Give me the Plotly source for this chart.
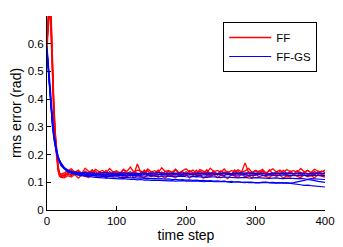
import plotly.graph_objects as go

# time steps: dense early part, then every 5 steps
T_EARLY = [0, 2, 4, 6, 8, 10, 12, 14, 16, 18, 20]
TAIL_START = 25
TAIL_STEP = 5

# FF (red) runs
RED_EARLY = [
    [0.60, 0.70, 0.78, 0.66, 0.48, 0.35, 0.26, 0.19, 0.15, 0.13, 0.125],
    [0.62, 0.72, 0.80, 0.70, 0.52, 0.38, 0.28, 0.21, 0.16, 0.135, 0.128],
    [0.58, 0.66, 0.74, 0.62, 0.45, 0.33, 0.24, 0.18, 0.14, 0.122, 0.118],
    [0.61, 0.69, 0.76, 0.68, 0.50, 0.36, 0.27, 0.20, 0.155, 0.128, 0.13],
    [0.60, 0.71, 0.79, 0.64, 0.47, 0.34, 0.25, 0.185, 0.145, 0.125, 0.12],
]
RED_TAIL = [
    [0.128, 0.135, 0.142, 0.130, 0.138, 0.127, 0.140, 0.133, 0.145, 0.129,
     0.136, 0.131, 0.143, 0.127, 0.138, 0.134, 0.129, 0.147, 0.132, 0.138,
     0.128, 0.166, 0.134, 0.141, 0.129, 0.137, 0.131, 0.144, 0.127, 0.139,
     0.133, 0.128, 0.146, 0.131, 0.137, 0.129, 0.142, 0.134, 0.127, 0.140,
     0.132, 0.145, 0.130, 0.136, 0.128, 0.141, 0.133, 0.139, 0.127, 0.144,
     0.131, 0.137, 0.170, 0.135, 0.129, 0.142, 0.133, 0.138, 0.127, 0.145,
     0.131, 0.136, 0.129, 0.143, 0.132, 0.138, 0.128, 0.141, 0.134, 0.130,
     0.144, 0.133, 0.137, 0.129, 0.141, 0.135],
    [0.121, 0.130, 0.124, 0.137, 0.126, 0.133, 0.122, 0.135, 0.128, 0.140,
     0.125, 0.132, 0.123, 0.138, 0.129, 0.124, 0.136, 0.127, 0.131, 0.122,
     0.139, 0.126, 0.133, 0.128, 0.142, 0.124, 0.130, 0.125, 0.137, 0.129,
     0.123, 0.135, 0.127, 0.132, 0.121, 0.138, 0.128, 0.134, 0.125, 0.131,
     0.137, 0.124, 0.129, 0.141, 0.126, 0.132, 0.123, 0.136, 0.130, 0.125,
     0.139, 0.128, 0.133, 0.122, 0.137, 0.127, 0.131, 0.143, 0.126, 0.130,
     0.124, 0.138, 0.129, 0.133, 0.125, 0.140, 0.127, 0.132, 0.123, 0.136,
     0.129, 0.134, 0.126, 0.139, 0.128, 0.131],
    [0.116, 0.124, 0.119, 0.128, 0.115, 0.126, 0.121, 0.117, 0.130, 0.122,
     0.118, 0.127, 0.114, 0.125, 0.120, 0.129, 0.116, 0.123, 0.119, 0.131,
     0.117, 0.124, 0.121, 0.115, 0.128, 0.120, 0.126, 0.118, 0.123, 0.114,
     0.129, 0.121, 0.117, 0.126, 0.122, 0.130, 0.116, 0.124, 0.119, 0.127,
     0.115, 0.123, 0.120, 0.128, 0.117, 0.125, 0.121, 0.113, 0.127, 0.122,
     0.118, 0.129, 0.120, 0.124, 0.116, 0.131, 0.119, 0.125, 0.121, 0.117,
     0.128, 0.122, 0.126, 0.115, 0.123, 0.119, 0.130, 0.121, 0.117, 0.126,
     0.120, 0.124, 0.116, 0.128, 0.122, 0.119],
    [0.134, 0.142, 0.149, 0.136, 0.144, 0.132, 0.151, 0.139, 0.135, 0.147,
     0.138, 0.143, 0.133, 0.150, 0.137, 0.141, 0.134, 0.146, 0.139, 0.155,
     0.136, 0.144, 0.140, 0.133, 0.148, 0.137, 0.142, 0.135, 0.152, 0.139,
     0.143, 0.136, 0.147, 0.134, 0.141, 0.149, 0.137, 0.144, 0.133, 0.146,
     0.140, 0.135, 0.151, 0.138, 0.143, 0.136, 0.148, 0.134, 0.142, 0.139,
     0.145, 0.137, 0.141, 0.150, 0.136, 0.143, 0.138, 0.147, 0.134, 0.141,
     0.149, 0.137, 0.144, 0.135, 0.146, 0.139, 0.142, 0.136, 0.150, 0.138,
     0.143, 0.135, 0.147, 0.140, 0.137, 0.144],
    [0.125, 0.133, 0.127, 0.139, 0.131, 0.124, 0.136, 0.129, 0.142, 0.126,
     0.134, 0.128, 0.137, 0.123, 0.132, 0.140, 0.127, 0.135, 0.130, 0.125,
     0.138, 0.131, 0.127, 0.144, 0.129, 0.134, 0.124, 0.137, 0.132, 0.128,
     0.141, 0.126, 0.133, 0.130, 0.138, 0.125, 0.135, 0.129, 0.143, 0.127,
     0.132, 0.136, 0.124, 0.139, 0.131, 0.128, 0.137, 0.133, 0.126, 0.140,
     0.129, 0.134, 0.127, 0.138, 0.132, 0.125, 0.141, 0.130, 0.135, 0.128,
     0.133, 0.126, 0.139, 0.131, 0.127, 0.136, 0.130, 0.142, 0.128, 0.134,
     0.131, 0.126, 0.138, 0.132, 0.129, 0.135],
]

# FF-GS (blue) runs
BLUE_EARLY = [
    [0.58, 0.51, 0.44, 0.37, 0.31, 0.27, 0.235, 0.21, 0.19, 0.18, 0.17],
    [0.57, 0.50, 0.43, 0.36, 0.30, 0.26, 0.23, 0.205, 0.19, 0.175, 0.165],
    [0.59, 0.52, 0.45, 0.38, 0.32, 0.275, 0.24, 0.215, 0.195, 0.18, 0.17],
    [0.56, 0.49, 0.42, 0.35, 0.30, 0.255, 0.225, 0.20, 0.185, 0.17, 0.16],
    [0.58, 0.50, 0.43, 0.37, 0.31, 0.265, 0.23, 0.21, 0.19, 0.177, 0.168],
]
BLUE_TAIL = [
    [0.153, 0.144, 0.139, 0.137, 0.136, 0.134, 0.135, 0.133, 0.134, 0.132,
     0.133, 0.135, 0.134, 0.132, 0.133, 0.131, 0.133, 0.134, 0.132, 0.133,
     0.131, 0.132, 0.134, 0.133, 0.131, 0.132, 0.133, 0.135, 0.133, 0.132,
     0.131, 0.133, 0.132, 0.134, 0.133, 0.131, 0.132, 0.130, 0.132, 0.133,
     0.131, 0.132, 0.134, 0.132, 0.131, 0.133, 0.132, 0.130, 0.131, 0.133,
     0.132, 0.134, 0.133, 0.131, 0.132, 0.133, 0.131, 0.132, 0.130, 0.131,
     0.133, 0.132, 0.131, 0.133, 0.132, 0.130, 0.131, 0.132, 0.133, 0.131,
     0.130, 0.132, 0.131, 0.133, 0.132, 0.131],
    [0.150, 0.141, 0.136, 0.133, 0.131, 0.130, 0.129, 0.131, 0.128, 0.130,
     0.129, 0.127, 0.129, 0.130, 0.128, 0.127, 0.129, 0.128, 0.126, 0.128,
     0.129, 0.127, 0.128, 0.130, 0.128, 0.127, 0.126, 0.128, 0.129, 0.127,
     0.128, 0.126, 0.127, 0.129, 0.128, 0.126, 0.127, 0.128, 0.126, 0.125,
     0.127, 0.128, 0.126, 0.127, 0.129, 0.127, 0.126, 0.128, 0.127, 0.125,
     0.126, 0.128, 0.127, 0.126, 0.125, 0.127, 0.128, 0.126, 0.125, 0.127,
     0.126, 0.124, 0.126, 0.127, 0.125, 0.126, 0.124, 0.125, 0.127, 0.126,
     0.124, 0.125, 0.126, 0.124, 0.125, 0.124],
    [0.151, 0.142, 0.137, 0.134, 0.132, 0.131, 0.129, 0.130, 0.128, 0.127,
     0.128, 0.126, 0.127, 0.125, 0.126, 0.124, 0.125, 0.126, 0.123, 0.124,
     0.125, 0.123, 0.124, 0.122, 0.123, 0.124, 0.122, 0.121, 0.123, 0.122,
     0.121, 0.122, 0.120, 0.121, 0.122, 0.120, 0.119, 0.121, 0.120, 0.119,
     0.120, 0.118, 0.119, 0.120, 0.118, 0.117, 0.119, 0.118, 0.117, 0.118,
     0.116, 0.117, 0.118, 0.116, 0.115, 0.117, 0.116, 0.115, 0.116, 0.114,
     0.115, 0.116, 0.114, 0.113, 0.115, 0.114, 0.112, 0.113, 0.114, 0.112,
     0.111, 0.113, 0.112, 0.110, 0.111, 0.110],
    [0.148, 0.138, 0.132, 0.128, 0.126, 0.124, 0.122, 0.121, 0.120, 0.118,
     0.117, 0.116, 0.115, 0.116, 0.114, 0.113, 0.112, 0.113, 0.111, 0.110,
     0.111, 0.109, 0.110, 0.108, 0.109, 0.107, 0.108, 0.107, 0.106, 0.107,
     0.105, 0.106, 0.104, 0.105, 0.106, 0.104, 0.103, 0.104, 0.105, 0.103,
     0.102, 0.103, 0.104, 0.102, 0.101, 0.102, 0.103, 0.101, 0.100, 0.101,
     0.102, 0.100, 0.099, 0.101, 0.100, 0.099, 0.098, 0.100, 0.099, 0.097,
     0.098, 0.097, 0.099, 0.098, 0.096, 0.097, 0.099, 0.101, 0.104, 0.107,
     0.110, 0.109, 0.106, 0.103, 0.101, 0.100],
    [0.149, 0.139, 0.134, 0.131, 0.129, 0.127, 0.126, 0.124, 0.125, 0.123,
     0.122, 0.121, 0.122, 0.120, 0.119, 0.120, 0.118, 0.117, 0.118, 0.116,
     0.117, 0.115, 0.116, 0.114, 0.115, 0.113, 0.114, 0.112, 0.113, 0.111,
     0.112, 0.110, 0.111, 0.109, 0.110, 0.108, 0.109, 0.107, 0.108, 0.106,
     0.107, 0.105, 0.106, 0.104, 0.105, 0.103, 0.104, 0.102, 0.103, 0.101,
     0.102, 0.100, 0.101, 0.099, 0.100, 0.098, 0.099, 0.100, 0.101, 0.099,
     0.100, 0.098, 0.099, 0.097, 0.098, 0.096, 0.095, 0.093, 0.091, 0.089,
     0.090, 0.088, 0.087, 0.085, 0.084, 0.083],
]

X_TICKS = [0, 100, 200, 300, 400]
Y_TICKS = [0, 0.1, 0.2, 0.3, 0.4, 0.5, 0.6]
Y_TICK_TEXT = ["0", "0.1", "0.2", "0.3", "0.4", "0.5", "0.6"]


def series_x(tail):
    return T_EARLY + [TAIL_START + TAIL_STEP * i for i in range(len(tail))]


fig = go.Figure()
for i, (e, t) in enumerate(zip(RED_EARLY, RED_TAIL)):
    fig.add_trace(go.Scatter(x=series_x(t), y=e + t, mode="lines",
                             line=dict(color="#ff0000", width=1.3),
                             name="FF", legendgroup="FF", showlegend=(i == 0)))
for i, (e, t) in enumerate(zip(BLUE_EARLY, BLUE_TAIL)):
    fig.add_trace(go.Scatter(x=series_x(t), y=e + t, mode="lines",
                             line=dict(color="#0000ff", width=1.2),
                             name="FF-GS", legendgroup="FFGS", showlegend=(i == 0)))

font = dict(family="Liberation Sans, Arial, Helvetica, sans-serif", size=11.5, color="#000")
# the page body has an 8px margin (left/top), so the figure is 8px smaller and
# the left/top margins compensate
fig.update_layout(
    width=335, height=239,
    margin=dict(l=39, r=18, t=8, b=37),
    paper_bgcolor="white", plot_bgcolor="white",
    font=font,
    showlegend=True,
    legend=dict(x=0.972, y=0.969, xanchor="right", yanchor="top",
                bgcolor="white", bordercolor="#000", borderwidth=1,
                font=dict(size=11.5), tracegroupgap=0, itemwidth=42),
)
fig.update_xaxes(range=[0, 400], tickvals=X_TICKS, ticks="inside", ticklen=4,
                 tickcolor="#000", showline=True, linecolor="#000", linewidth=1,
                 showgrid=False, zeroline=False, mirror=False, automargin=False,
                 title=dict(text="time step", standoff=3))
fig.update_yaxes(range=[0, 0.7], tickvals=Y_TICKS, ticktext=Y_TICK_TEXT,
                 ticks="inside", ticklen=4, tickcolor="#000", showline=True,
                 linecolor="#000", linewidth=1, showgrid=False, zeroline=False,
                 mirror=False, automargin=False,
                 title=dict(text="rms error (rad)", standoff=6))

fig.write_html("out.html")
